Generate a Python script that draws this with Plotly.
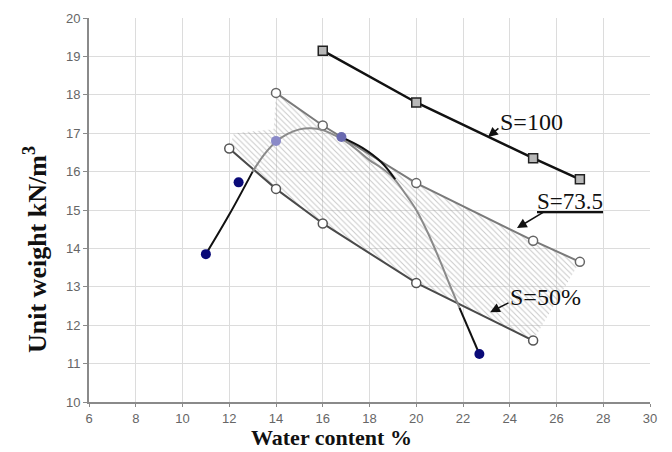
import plotly.graph_objects as go

# ---- data ----
s100_x = [16, 20, 25, 27]
s100_y = [19.15, 17.8, 16.35, 15.8]

s735_x = [14, 16, 20, 25, 27]
s735_y = [18.05, 17.2, 15.7, 14.2, 13.65]

s50_x = [12, 14, 16, 20, 25]
s50_y = [16.6, 15.55, 14.65, 13.1, 11.6]

# compaction test points
test_x = [11, 12.4, 14, 16.8, 22.7]
test_y = [13.85, 15.72, 16.8, 16.9, 11.25]
test_col = ["#0a0a78", "#0a0a78", "#8a8ac8", "#6a6ab0", "#0a0a78"]

# fitted compaction curve (gray)
curve_x = [13, 13.5, 14, 14.5, 15, 15.5, 16, 16.5, 17, 17.5, 18, 18.5, 19, 19.5, 20, 20.5, 21, 21.5, 21.85]
curve_y = [16.0, 16.45, 16.78, 16.98, 17.1, 17.13, 17.08, 16.95, 16.78, 16.55, 16.3, 16.1, 15.85, 15.45, 15.0, 14.4, 13.7, 12.95, 12.45]

# black curve pieces
blk_left_x = [11, 12, 13]
blk_left_y = [13.85, 14.88, 16.0]
blk_mid_x = [16.8, 17.7, 18.5, 19.1]
blk_mid_y = [16.9, 16.62, 16.25, 15.8]
blk_end_x = [21.85, 22.7]
blk_end_y = [12.45, 11.25]

# extra corner of the hatched zone
hatch_corner_x = [12.2, 13.9]
hatch_corner_y = [17.0, 17.1]

x_ticks = list(range(6, 31, 2))
y_ticks = list(range(10, 21, 1))

fig = go.Figure()

# hatched zone between S=50 and S=73.5
hx = s735_x + [s50_x[-1]] + s50_x[::-1][1:] + hatch_corner_x + [s735_x[0]]
hy = s735_y + [s50_y[-1]] + s50_y[::-1][1:] + hatch_corner_y + [s735_y[0]]
fig.add_trace(go.Scatter(
    x=hx, y=hy, mode="lines", fill="toself",
    line=dict(width=0, color="rgba(0,0,0,0)"),
    fillcolor="rgba(0,0,0,0)",
    fillpattern=dict(shape="\\", fgcolor="#939393", bgcolor="rgba(0,0,0,0)", size=4, solidity=0.25),
    hoverinfo="skip", showlegend=False))

# saturation lines
fig.add_trace(go.Scatter(x=s50_x, y=s50_y, mode="lines+markers",
    line=dict(color="#4a4a4a", width=2),
    marker=dict(symbol="circle", size=9, color="white", line=dict(color="#555", width=1.5)),
    showlegend=False))
fig.add_trace(go.Scatter(x=s735_x, y=s735_y, mode="lines+markers",
    line=dict(color="#7a7a7a", width=2),
    marker=dict(symbol="circle", size=9, color="white", line=dict(color="#666", width=1.5)),
    showlegend=False))
fig.add_trace(go.Scatter(x=s100_x, y=s100_y, mode="lines+markers",
    line=dict(color="#111", width=2.5),
    marker=dict(symbol="square", size=9, color="#b8b8b8", line=dict(color="#222", width=1.5)),
    showlegend=False))

# compaction curves
fig.add_trace(go.Scatter(x=curve_x, y=curve_y, mode="lines", line=dict(color="#8a8a8a", width=2, shape="spline"),
                         showlegend=False))
for bx, by in [(blk_left_x, blk_left_y), (blk_mid_x, blk_mid_y), (blk_end_x, blk_end_y)]:
    fig.add_trace(go.Scatter(x=bx, y=by, mode="lines", line=dict(color="#111", width=2, shape="spline"),
                             showlegend=False))

fig.add_trace(go.Scatter(x=test_x, y=test_y, mode="markers",
    marker=dict(size=10, color=test_col), showlegend=False))

serif = "Liberation Serif, Times New Roman, serif"

ann = []
# labels
ann.append(dict(x=24.91, y=17.29, text="S=100", showarrow=False, font=dict(family=serif, size=24, color="#111")))
ann.append(dict(x=26.58, y=15.23, text="<u>S=73.5</u>", showarrow=False, font=dict(family=serif, size=23, color="#111")))
ann.append(dict(x=25.51, y=12.73, text="S=50%", showarrow=False, font=dict(family=serif, size=24, color="#111")))
# arrows
for (hx_, hy_, tx_, ty_) in [(23.07, 16.9, 23.58, 17.16), (24.31, 14.53, 25.51, 14.97), (23.16, 12.34, 24.01, 12.6)]:
    ann.append(dict(x=hx_, y=hy_, ax=tx_, ay=ty_, axref="x", ayref="y", xref="x", yref="y", text="",
                    showarrow=True, arrowhead=2, arrowsize=1.3, arrowwidth=1.5, arrowcolor="#111"))
# axis titles
ann.append(dict(xref="paper", yref="paper", x=(331 - 89) / 561, y=-(451 - 402) / 384, text="<b>Water content %</b>",
                showarrow=False, font=dict(family=serif, size=22, color="#111"), xanchor="center", yanchor="bottom",
                borderpad=0))
ann.append(dict(xref="paper", yref="paper", x=-(89 - 35) / 561, y=(402 - 250) / 384, text="<b>Unit weight kN/m<sup>3</sup></b>",
                showarrow=False, textangle=-90, font=dict(family=serif, size=26, color="#111"), xanchor="center", yanchor="middle"))

fig.update_layout(
    width=672, height=452,
    margin=dict(l=89, r=22, t=18, b=50),
    paper_bgcolor="white", plot_bgcolor="white",
    annotations=ann,
    xaxis=dict(range=[6, 30], tickvals=x_ticks, ticktext=[str(v) for v in x_ticks],
               showgrid=True, gridcolor="#dcdcdc", gridwidth=1,
               showline=True, linecolor="#8a8a8a", linewidth=2,
               ticks="outside", ticklen=3, tickcolor="#8a8a8a",
               tickfont=dict(family="Liberation Sans, Arial, sans-serif", size=13, color="#666"),
               zeroline=False),
    yaxis=dict(range=[10, 20], tickvals=y_ticks, ticktext=[str(v) for v in y_ticks],
               showgrid=True, gridcolor="#dcdcdc", gridwidth=1,
               showline=True, linecolor="#8a8a8a", linewidth=2,
               ticks="outside", ticklen=4, tickcolor="#8a8a8a",
               tickfont=dict(family="Liberation Sans, Arial, sans-serif", size=13, color="#666"),
               zeroline=False),
)

fig.write_html("out.html", config={"displayModeBar": False},
               post_script="document.body.style.margin='0';document.body.style.overflow='hidden';")
